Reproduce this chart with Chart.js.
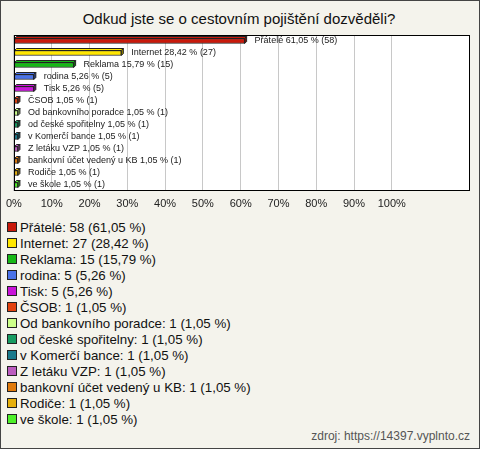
<!DOCTYPE html>
<html>
<head>
<meta charset="utf-8">
<script src="https://cdn.jsdelivr.net/npm/chart.js@4"></script>
<style>
body { margin: 0; }
#box { position: relative; width: 480px; height: 449px; background: #f4f3ec; box-shadow: inset 0 0 0 1px #444; font-family: "Liberation Sans", Arial, sans-serif; overflow: hidden; }
#title { position: absolute; left: 0; top: 10px; width: 478px; text-align: center; font-size: 15px; color: #111; }
#wrap { position: absolute; left: 0; top: 0; width: 480px; height: 215px; }
#legend { position: absolute; left: 7px; top: 219px; font-size: 13.3px; color: #111; }
.item { display: flex; align-items: center; height: 16px; white-space: nowrap; }
.sw { flex: none; width: 8px; height: 8px; border: 1px solid #222; margin-right: 3px; }
#src { position: absolute; right: 10px; top: 429px; font-size: 12px; color: #555; }
</style>
</head>
<body>
<div id="box">
    <div id="title">Odkud jste se o cestovním pojištění dozvěděli?</div>
    <div id="wrap"><canvas id="pollChart"></canvas></div>
    <div id="legend"></div>
    <div id="src">zdroj: https://14397.vyplnto.cz</div>
</div>
<script>
const categories = ["Přátelé", "Internet", "Reklama", "rodina", "Tisk", "ČSOB", "Od bankovního poradce",
    "od české spořitelny", "v Komerčí bance", "Z letáku VZP", "bankovní účet vedený u KB", "Rodiče", "ve škole"];
const counts = [58, 27, 15, 5, 5, 1, 1, 1, 1, 1, 1, 1, 1];
const percents = [61.05, 28.42, 15.79, 5.26, 5.26, 1.05, 1.05, 1.05, 1.05, 1.05, 1.05, 1.05, 1.05];
const colors = ["#c8190b", "#ffe600", "#17b817", "#4a72e8", "#c814d8", "#e2420f", "#ccff88",
    "#179c62", "#1a7a8c", "#bb5cbf", "#e07a0c", "#e6b00e", "#4ef02a"];
const tickValues = [0, 10, 20, 30, 40, 50, 60, 70, 80, 90, 100];
const tickLabels = ["0%", "10%", "20%", "30%", "40%", "50%", "60%", "70%", "80%", "90%", "100%"];
const xMax = 120.7;

const fmt = v => v.toFixed(2).replace('.', ',');

// legend below the chart
const legend = document.getElementById('legend');
categories.forEach((name, i) => {
    const row = document.createElement('div');
    row.className = 'item';
    row.innerHTML = '<span class="sw" style="background:' + colors[i] + '"></span>' +
        name + ': ' + counts[i] + ' (' + fmt(percents[i]) + ' %)';
    legend.appendChild(row);
});

function shade(hex, f) {
    const n = parseInt(hex.slice(1), 16);
    const c = [n >> 16, (n >> 8) & 255, n & 255].map(v => Math.round(v * f));
    return 'rgb(' + c.join(',') + ')';
}

// white plot box with black frame
const plotBox = {
    id: 'plotBox',
    beforeDraw(chart) {
        const a = chart.chartArea, ctx = chart.ctx;
        ctx.save();
        ctx.fillStyle = '#fff';
        ctx.fillRect(a.left, a.top, a.right - a.left, a.bottom - a.top);
        ctx.restore();
    },
    afterDraw(chart) {
        const a = chart.chartArea, ctx = chart.ctx;
        ctx.save();
        ctx.strokeStyle = '#000';
        ctx.lineWidth = 1;
        ctx.strokeRect(Math.round(a.left) + 0.5, Math.round(a.top) + 0.5,
            Math.round(a.right - a.left) - 1, Math.round(a.bottom - a.top) - 1);
        ctx.restore();
    }
};

// 3D faces and value labels
const bar3d = {
    id: 'bar3d',
    afterDatasetsDraw(chart) {
        const ctx = chart.ctx, d = 2;
        const meta = chart.getDatasetMeta(0);
        ctx.save();
        meta.data.forEach((bar, i) => {
            const p = bar.getProps(['x', 'y', 'base', 'height'], true);
            const top = p.y - p.height / 2, bottom = p.y + p.height / 2;
            ctx.lineWidth = 1;
            ctx.strokeStyle = '#222';
            ctx.fillStyle = colors[i];
            ctx.beginPath();
            ctx.moveTo(p.base, top);
            ctx.lineTo(p.base + d, top - d);
            ctx.lineTo(p.x + d, top - d);
            ctx.lineTo(p.x, top);
            ctx.closePath();
            ctx.fill();
            ctx.stroke();
            ctx.fillStyle = shade(colors[i], 0.6);
            ctx.beginPath();
            ctx.moveTo(p.x, top);
            ctx.lineTo(p.x + d, top - d);
            ctx.lineTo(p.x + d, bottom - d);
            ctx.lineTo(p.x, bottom);
            ctx.closePath();
            ctx.fill();
            ctx.stroke();

            ctx.fillStyle = '#222';
            ctx.font = '9px "Liberation Sans", Arial, sans-serif';
            ctx.textBaseline = 'middle';
            ctx.fillText(categories[i] + ' ' + fmt(percents[i]) + ' % (' + counts[i] + ')', p.x + 10, p.y);
        });
        ctx.restore();
    }
};

const ctx = document.getElementById('pollChart').getContext('2d');
const pollChart = new Chart(ctx, {
    type: 'bar',
    data: {
        labels: categories,
        datasets: [{
            data: percents,
            backgroundColor: colors,
            borderColor: '#222',
            borderWidth: 1,
            borderSkipped: false,
            barThickness: 5
        }]
    },
    options: {
        indexAxis: 'y',
        responsive: true,
        maintainAspectRatio: false,
        animation: false,
        layout: { padding: { left: 11, right: 10, top: 35, bottom: 0 } },
        scales: {
            y: { display: false },
            x: {
                min: 0,
                max: xMax,
                afterBuildTicks: function (scale) {
                    scale.ticks = tickValues.map(v => ({ value: v }));
                },
                afterFit: function (scale) {
                    scale.height = 24;
                },
                border: { display: false },
                grid: { color: '#c8c8c8', drawTicks: false },
                ticks: {
                    padding: 6,
                    color: '#222',
                    font: { family: '"Liberation Sans", Arial, sans-serif', size: 11 },
                    maxRotation: 0,
                    autoSkip: false,
                    callback: function (value, index) {
                        return tickLabels[index];
                    }
                }
            }
        },
        plugins: {
            legend: { display: false },
            tooltip: { enabled: false }
        }
    },
    plugins: [plotBox, bar3d]
});
</script>
</body>
</html>
